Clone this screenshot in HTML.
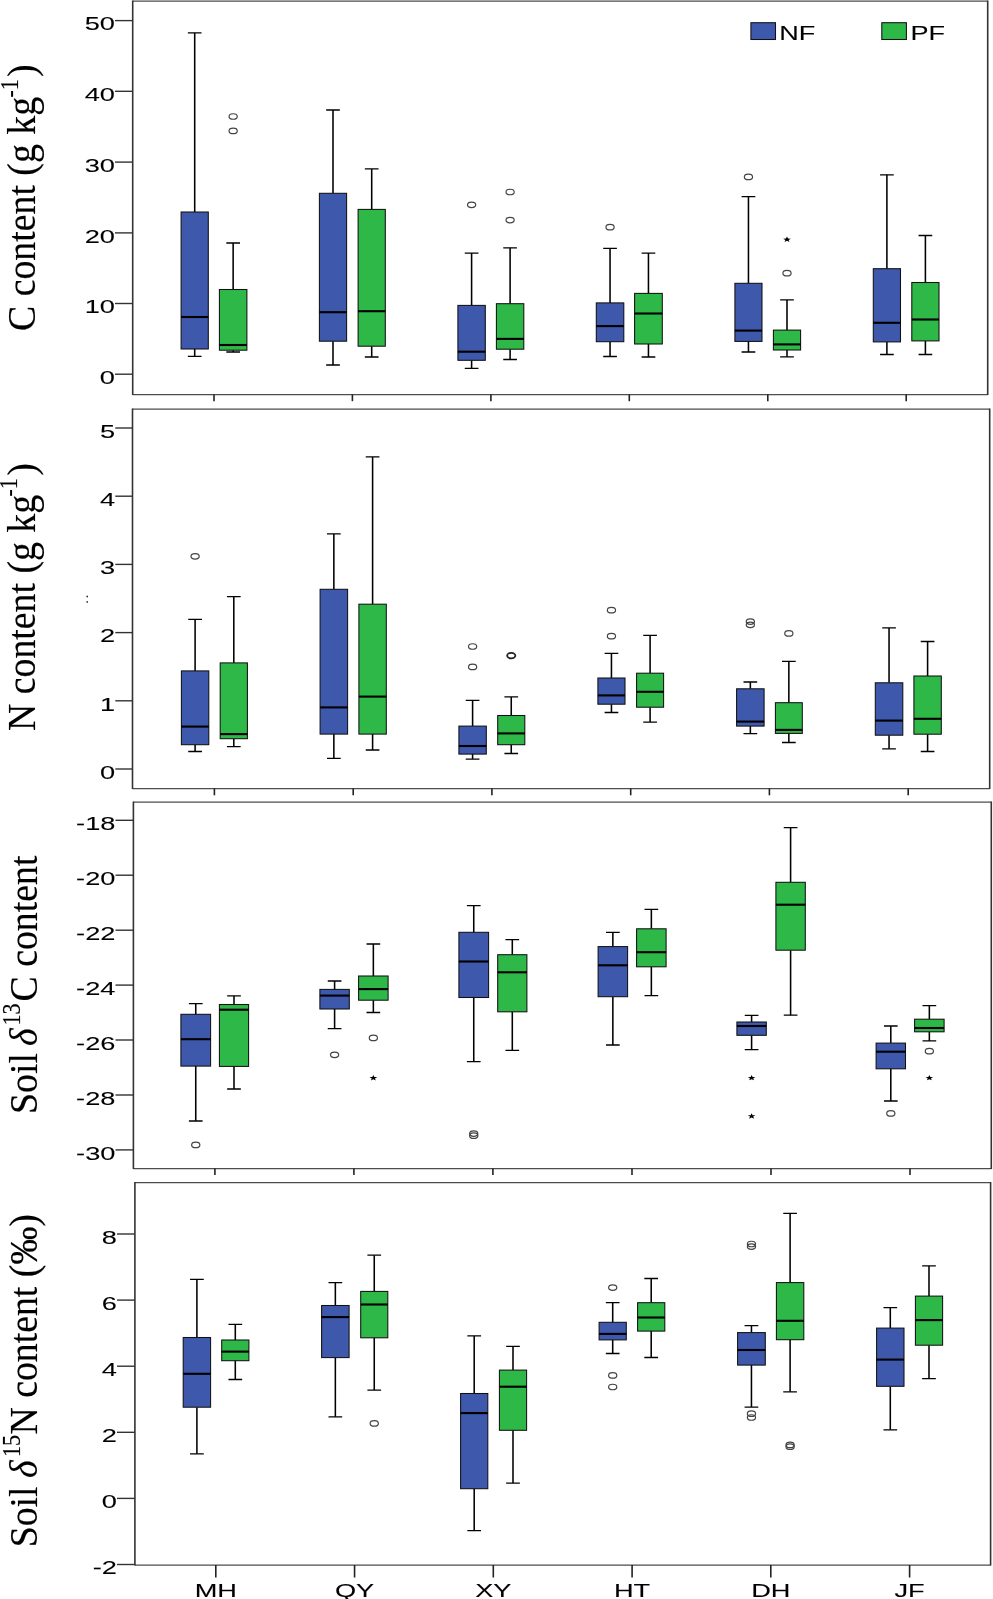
<!DOCTYPE html>
<html><head><meta charset="utf-8"><title>Box plots</title>
<style>
html,body{margin:0;padding:0;background:#fff;}
body{width:993px;height:1599px;overflow:hidden;}
svg{display:block;will-change:transform;}
.t{font-family:"Liberation Sans",sans-serif;font-size:18.9px;fill:#000;stroke:#000;stroke-width:0.08px;}
.lg{font-family:"Liberation Sans",sans-serif;font-size:19.6px;fill:#000;stroke:#000;stroke-width:0.08px;}
.st{font-family:"Liberation Sans",sans-serif;font-size:13px;fill:#000;}
.yt{font-family:"Liberation Serif",serif;stroke-width:0.15px;}
.sup{font-size:21.5px;}
</style></head>
<body>
<svg width="993" height="1599" viewBox="0 0 993 1599">
<rect width="993" height="1599" fill="#fff"/>
<path d="M132.7 1.2H987.7M132.7 394.5H987.7" stroke="#4d4d4d" stroke-width="1.25" fill="none"/>
<path d="M132.7 0.6V395.1M987.7 0.6V395.1" stroke="#333" stroke-width="1.6" fill="none"/>
<line x1="115" y1="20.6" x2="132.7" y2="20.6" stroke="#333" stroke-width="1.4"/>
<text class="t" transform="translate(114.9 30.3) scale(1.44 1)" text-anchor="end">50</text>
<line x1="115" y1="91.3" x2="132.7" y2="91.3" stroke="#333" stroke-width="1.4"/>
<text class="t" transform="translate(114.9 101) scale(1.44 1)" text-anchor="end">40</text>
<line x1="115" y1="162.1" x2="132.7" y2="162.1" stroke="#333" stroke-width="1.4"/>
<text class="t" transform="translate(114.9 171.8) scale(1.44 1)" text-anchor="end">30</text>
<line x1="115" y1="232.9" x2="132.7" y2="232.9" stroke="#333" stroke-width="1.4"/>
<text class="t" transform="translate(114.9 242.6) scale(1.44 1)" text-anchor="end">20</text>
<line x1="115" y1="303.5" x2="132.7" y2="303.5" stroke="#333" stroke-width="1.4"/>
<text class="t" transform="translate(114.9 313.2) scale(1.44 1)" text-anchor="end">10</text>
<line x1="115" y1="374.2" x2="132.7" y2="374.2" stroke="#333" stroke-width="1.4"/>
<text class="t" transform="translate(114.9 383.9) scale(1.44 1)" text-anchor="end">0</text>
<line x1="214" y1="394.5" x2="214" y2="401.2" stroke="#222" stroke-width="1.6"/>
<line x1="352.4" y1="394.5" x2="352.4" y2="401.2" stroke="#222" stroke-width="1.6"/>
<line x1="490.9" y1="394.5" x2="490.9" y2="401.2" stroke="#222" stroke-width="1.6"/>
<line x1="629.3" y1="394.5" x2="629.3" y2="401.2" stroke="#222" stroke-width="1.6"/>
<line x1="767.8" y1="394.5" x2="767.8" y2="401.2" stroke="#222" stroke-width="1.6"/>
<line x1="906.2" y1="394.5" x2="906.2" y2="401.2" stroke="#222" stroke-width="1.6"/>
<path d="M194.7 32.9V212M194.7 349V356.3" stroke="#000" stroke-width="1.55" fill="none"/>
<path d="M187.85 32.9H201.55M187.85 356.3H201.55" stroke="#000" stroke-width="1.3" fill="none"/>
<rect x="181.1" y="212" width="27.2" height="137" fill="#3e58ac" stroke="#111" stroke-width="1.05"/>
<line x1="181.1" y1="317" x2="208.3" y2="317" stroke="#000" stroke-width="2.1"/>
<path d="M233.15 243V289.5M233.15 350.2V352" stroke="#000" stroke-width="1.55" fill="none"/>
<path d="M226.3 243H240M226.3 352H240" stroke="#000" stroke-width="1.3" fill="none"/>
<rect x="219.4" y="289.5" width="27.5" height="60.7" fill="#2eb848" stroke="#111" stroke-width="1.05"/>
<line x1="219.4" y1="345" x2="246.9" y2="345" stroke="#000" stroke-width="2.1"/>
<ellipse cx="233.15" cy="116.5" rx="4.1" ry="2.75" fill="none" stroke="#444" stroke-width="1.2"/>
<ellipse cx="233.15" cy="130.9" rx="4.1" ry="2.75" fill="none" stroke="#444" stroke-width="1.2"/>
<path d="M333 110V193.3M333 341.2V365" stroke="#000" stroke-width="1.55" fill="none"/>
<path d="M326.15 110H339.85M326.15 365H339.85" stroke="#000" stroke-width="1.3" fill="none"/>
<rect x="319.4" y="193.3" width="27.2" height="147.9" fill="#3e58ac" stroke="#111" stroke-width="1.05"/>
<line x1="319.4" y1="312.2" x2="346.6" y2="312.2" stroke="#000" stroke-width="2.1"/>
<path d="M371.7 168.9V209.4M371.7 346.2V357" stroke="#000" stroke-width="1.55" fill="none"/>
<path d="M364.85 168.9H378.55M364.85 357H378.55" stroke="#000" stroke-width="1.3" fill="none"/>
<rect x="358.1" y="209.4" width="27.2" height="136.8" fill="#2eb848" stroke="#111" stroke-width="1.05"/>
<line x1="358.1" y1="311.2" x2="385.3" y2="311.2" stroke="#000" stroke-width="2.1"/>
<path d="M471.6 253.1V305.4M471.6 360.3V368.4" stroke="#000" stroke-width="1.55" fill="none"/>
<path d="M464.75 253.1H478.45M464.75 368.4H478.45" stroke="#000" stroke-width="1.3" fill="none"/>
<rect x="457.9" y="305.4" width="27.4" height="54.9" fill="#3e58ac" stroke="#111" stroke-width="1.05"/>
<line x1="457.9" y1="351.7" x2="485.3" y2="351.7" stroke="#000" stroke-width="2.1"/>
<ellipse cx="471.6" cy="204.8" rx="4.1" ry="2.75" fill="none" stroke="#444" stroke-width="1.2"/>
<path d="M510.1 247.8V303.7M510.1 349.2V359.5" stroke="#000" stroke-width="1.55" fill="none"/>
<path d="M503.25 247.8H516.95M503.25 359.5H516.95" stroke="#000" stroke-width="1.3" fill="none"/>
<rect x="496.4" y="303.7" width="27.4" height="45.5" fill="#2eb848" stroke="#111" stroke-width="1.05"/>
<line x1="496.4" y1="338.9" x2="523.8" y2="338.9" stroke="#000" stroke-width="2.1"/>
<ellipse cx="510.1" cy="192" rx="4.1" ry="2.75" fill="none" stroke="#444" stroke-width="1.2"/>
<ellipse cx="510.1" cy="220.1" rx="4.1" ry="2.75" fill="none" stroke="#444" stroke-width="1.2"/>
<path d="M610.05 248.3V302.9M610.05 341.7V356.5" stroke="#000" stroke-width="1.55" fill="none"/>
<path d="M603.2 248.3H616.9M603.2 356.5H616.9" stroke="#000" stroke-width="1.3" fill="none"/>
<rect x="596.3" y="302.9" width="27.5" height="38.8" fill="#3e58ac" stroke="#111" stroke-width="1.05"/>
<line x1="596.3" y1="326.1" x2="623.8" y2="326.1" stroke="#000" stroke-width="2.1"/>
<ellipse cx="610.05" cy="227.2" rx="4.1" ry="2.75" fill="none" stroke="#444" stroke-width="1.2"/>
<path d="M648.45 253.1V293.4M648.45 344V357" stroke="#000" stroke-width="1.55" fill="none"/>
<path d="M641.6 253.1H655.3M641.6 357H655.3" stroke="#000" stroke-width="1.3" fill="none"/>
<rect x="634.6" y="293.4" width="27.7" height="50.6" fill="#2eb848" stroke="#111" stroke-width="1.05"/>
<line x1="634.6" y1="313.5" x2="662.3" y2="313.5" stroke="#000" stroke-width="2.1"/>
<path d="M748.45 196.7V283.3M748.45 341.4V352" stroke="#000" stroke-width="1.55" fill="none"/>
<path d="M741.6 196.7H755.3M741.6 352H755.3" stroke="#000" stroke-width="1.3" fill="none"/>
<rect x="734.9" y="283.3" width="27.1" height="58.1" fill="#3e58ac" stroke="#111" stroke-width="1.05"/>
<line x1="734.9" y1="330.6" x2="762" y2="330.6" stroke="#000" stroke-width="2.1"/>
<ellipse cx="748.45" cy="176.9" rx="4.1" ry="2.75" fill="none" stroke="#444" stroke-width="1.2"/>
<path d="M787 299.9V330.1M787 350V356.8" stroke="#000" stroke-width="1.55" fill="none"/>
<path d="M780.15 299.9H793.85M780.15 356.8H793.85" stroke="#000" stroke-width="1.3" fill="none"/>
<rect x="773.4" y="330.1" width="27.2" height="19.9" fill="#2eb848" stroke="#111" stroke-width="1.05"/>
<line x1="773.4" y1="344.4" x2="800.6" y2="344.4" stroke="#000" stroke-width="2.1"/>
<ellipse cx="787" cy="273.2" rx="4.1" ry="2.75" fill="none" stroke="#444" stroke-width="1.2"/>
<path transform="translate(787 239.3) scale(4.1 3.0)" d="M0.000 -0.900L0.247 -0.240L0.951 -0.209L0.399 0.230L0.588 0.909L0.000 0.520L-0.588 0.909L-0.399 0.230L-0.951 -0.209L-0.247 -0.240Z" fill="#000"/>
<path d="M886.9 174.8V268.7M886.9 341.9V354.5" stroke="#000" stroke-width="1.55" fill="none"/>
<path d="M880.05 174.8H893.75M880.05 354.5H893.75" stroke="#000" stroke-width="1.3" fill="none"/>
<rect x="873.3" y="268.7" width="27.2" height="73.2" fill="#3e58ac" stroke="#111" stroke-width="1.05"/>
<line x1="873.3" y1="322.8" x2="900.5" y2="322.8" stroke="#000" stroke-width="2.1"/>
<path d="M925.4 235.5V282.5M925.4 340.9V354.5" stroke="#000" stroke-width="1.55" fill="none"/>
<path d="M918.55 235.5H932.25M918.55 354.5H932.25" stroke="#000" stroke-width="1.3" fill="none"/>
<rect x="911.8" y="282.5" width="27.2" height="58.4" fill="#2eb848" stroke="#111" stroke-width="1.05"/>
<line x1="911.8" y1="319.5" x2="939" y2="319.5" stroke="#000" stroke-width="2.1"/>
<path d="M132.5 409.2H989.7M132.5 788.5H989.7" stroke="#4d4d4d" stroke-width="1.25" fill="none"/>
<path d="M132.5 408.6V789.1M989.7 408.6V789.1" stroke="#333" stroke-width="1.6" fill="none"/>
<line x1="115.3" y1="428" x2="132.5" y2="428" stroke="#333" stroke-width="1.4"/>
<text class="t" transform="translate(115.2 437.7) scale(1.44 1)" text-anchor="end">5</text>
<line x1="115.3" y1="496.2" x2="132.5" y2="496.2" stroke="#333" stroke-width="1.4"/>
<text class="t" transform="translate(115.2 505.9) scale(1.44 1)" text-anchor="end">4</text>
<line x1="115.3" y1="564.4" x2="132.5" y2="564.4" stroke="#333" stroke-width="1.4"/>
<text class="t" transform="translate(115.2 574.1) scale(1.44 1)" text-anchor="end">3</text>
<line x1="115.3" y1="632.6" x2="132.5" y2="632.6" stroke="#333" stroke-width="1.4"/>
<text class="t" transform="translate(115.2 642.3) scale(1.44 1)" text-anchor="end">2</text>
<line x1="115.3" y1="700.8" x2="132.5" y2="700.8" stroke="#333" stroke-width="1.4"/>
<text class="t" transform="translate(115.2 710.5) scale(1.44 1)" text-anchor="end">1</text>
<line x1="115.3" y1="769" x2="132.5" y2="769" stroke="#333" stroke-width="1.4"/>
<text class="t" transform="translate(115.2 778.7) scale(1.44 1)" text-anchor="end">0</text>
<line x1="214.4" y1="788.5" x2="214.4" y2="795.3" stroke="#222" stroke-width="1.6"/>
<line x1="353.2" y1="788.5" x2="353.2" y2="795.3" stroke="#222" stroke-width="1.6"/>
<line x1="491.9" y1="788.5" x2="491.9" y2="795.3" stroke="#222" stroke-width="1.6"/>
<line x1="630.7" y1="788.5" x2="630.7" y2="795.3" stroke="#222" stroke-width="1.6"/>
<line x1="769.4" y1="788.5" x2="769.4" y2="795.3" stroke="#222" stroke-width="1.6"/>
<line x1="908.2" y1="788.5" x2="908.2" y2="795.3" stroke="#222" stroke-width="1.6"/>
<path d="M195.1 619.3V670.9M195.1 744.7V751.5" stroke="#000" stroke-width="1.55" fill="none"/>
<path d="M188.25 619.3H201.95M188.25 751.5H201.95" stroke="#000" stroke-width="1.3" fill="none"/>
<rect x="181.4" y="670.9" width="27.4" height="73.8" fill="#3e58ac" stroke="#111" stroke-width="1.05"/>
<line x1="181.4" y1="726.6" x2="208.8" y2="726.6" stroke="#000" stroke-width="2.1"/>
<ellipse cx="195.1" cy="556.3" rx="4.1" ry="2.75" fill="none" stroke="#444" stroke-width="1.2"/>
<path d="M233.8 596.6V662.9M233.8 738.7V746.7" stroke="#000" stroke-width="1.55" fill="none"/>
<path d="M226.95 596.6H240.65M226.95 746.7H240.65" stroke="#000" stroke-width="1.3" fill="none"/>
<rect x="220.2" y="662.9" width="27.2" height="75.8" fill="#2eb848" stroke="#111" stroke-width="1.05"/>
<line x1="220.2" y1="734.1" x2="247.4" y2="734.1" stroke="#000" stroke-width="2.1"/>
<path d="M333.85 533.9V589.3M333.85 734.1V758.3" stroke="#000" stroke-width="1.55" fill="none"/>
<path d="M327 533.9H340.7M327 758.3H340.7" stroke="#000" stroke-width="1.3" fill="none"/>
<rect x="320.1" y="589.3" width="27.5" height="144.8" fill="#3e58ac" stroke="#111" stroke-width="1.05"/>
<line x1="320.1" y1="707.4" x2="347.6" y2="707.4" stroke="#000" stroke-width="2.1"/>
<path d="M372.6 456.9V604.2M372.6 734.1V750" stroke="#000" stroke-width="1.55" fill="none"/>
<path d="M365.75 456.9H379.45M365.75 750H379.45" stroke="#000" stroke-width="1.3" fill="none"/>
<rect x="358.9" y="604.2" width="27.4" height="129.9" fill="#2eb848" stroke="#111" stroke-width="1.05"/>
<line x1="358.9" y1="696.6" x2="386.3" y2="696.6" stroke="#000" stroke-width="2.1"/>
<path d="M472.6 700.4V726.1M472.6 754.1V759.1" stroke="#000" stroke-width="1.55" fill="none"/>
<path d="M465.75 700.4H479.45M465.75 759.1H479.45" stroke="#000" stroke-width="1.3" fill="none"/>
<rect x="458.9" y="726.1" width="27.4" height="28" fill="#3e58ac" stroke="#111" stroke-width="1.05"/>
<line x1="458.9" y1="746" x2="486.3" y2="746" stroke="#000" stroke-width="2.1"/>
<ellipse cx="472.6" cy="646.5" rx="4.1" ry="2.75" fill="none" stroke="#444" stroke-width="1.2"/>
<ellipse cx="472.6" cy="666.9" rx="4.1" ry="2.75" fill="none" stroke="#444" stroke-width="1.2"/>
<path d="M511.25 696.9V715.5M511.25 744.7V753.5" stroke="#000" stroke-width="1.55" fill="none"/>
<path d="M504.4 696.9H518.1M504.4 753.5H518.1" stroke="#000" stroke-width="1.3" fill="none"/>
<rect x="497.7" y="715.5" width="27.1" height="29.2" fill="#2eb848" stroke="#111" stroke-width="1.05"/>
<line x1="497.7" y1="733.4" x2="524.8" y2="733.4" stroke="#000" stroke-width="2.1"/>
<ellipse cx="511.25" cy="655.6" rx="4.1" ry="2.75" fill="none" stroke="#222" stroke-width="1.8"/>
<path d="M611.45 653.3V678M611.45 704.2V712.5" stroke="#000" stroke-width="1.55" fill="none"/>
<path d="M604.6 653.3H618.3M604.6 712.5H618.3" stroke="#000" stroke-width="1.3" fill="none"/>
<rect x="597.9" y="678" width="27.1" height="26.2" fill="#3e58ac" stroke="#111" stroke-width="1.05"/>
<line x1="597.9" y1="695.4" x2="625" y2="695.4" stroke="#000" stroke-width="2.1"/>
<ellipse cx="611.45" cy="610.2" rx="4.1" ry="2.75" fill="none" stroke="#444" stroke-width="1.2"/>
<ellipse cx="611.45" cy="636.2" rx="4.1" ry="2.75" fill="none" stroke="#444" stroke-width="1.2"/>
<path d="M650.1 635.4V673.2M650.1 707.2V722.1" stroke="#000" stroke-width="1.55" fill="none"/>
<path d="M643.25 635.4H656.95M643.25 722.1H656.95" stroke="#000" stroke-width="1.3" fill="none"/>
<rect x="636.6" y="673.2" width="27" height="34" fill="#2eb848" stroke="#111" stroke-width="1.05"/>
<line x1="636.6" y1="691.8" x2="663.6" y2="691.8" stroke="#000" stroke-width="2.1"/>
<path d="M750.35 682V688.8M750.35 726.1V733.7" stroke="#000" stroke-width="1.55" fill="none"/>
<path d="M743.5 682H757.2M743.5 733.7H757.2" stroke="#000" stroke-width="1.3" fill="none"/>
<rect x="736.6" y="688.8" width="27.5" height="37.3" fill="#3e58ac" stroke="#111" stroke-width="1.05"/>
<line x1="736.6" y1="721.6" x2="764.1" y2="721.6" stroke="#000" stroke-width="2.1"/>
<ellipse cx="750.35" cy="621.6" rx="4.1" ry="2.75" fill="none" stroke="#444" stroke-width="1.2"/>
<ellipse cx="750.35" cy="624.8" rx="4.1" ry="2.75" fill="none" stroke="#444" stroke-width="1.2"/>
<path d="M788.85 661.4V702.7M788.85 733.4V742.5" stroke="#000" stroke-width="1.55" fill="none"/>
<path d="M782 661.4H795.7M782 742.5H795.7" stroke="#000" stroke-width="1.3" fill="none"/>
<rect x="775.4" y="702.7" width="26.9" height="30.7" fill="#2eb848" stroke="#111" stroke-width="1.05"/>
<line x1="775.4" y1="729.9" x2="802.3" y2="729.9" stroke="#000" stroke-width="2.1"/>
<ellipse cx="788.85" cy="633.4" rx="4.1" ry="2.75" fill="none" stroke="#444" stroke-width="1.2"/>
<path d="M889.05 627.9V682.8M889.05 735.2V748.8" stroke="#000" stroke-width="1.55" fill="none"/>
<path d="M882.2 627.9H895.9M882.2 748.8H895.9" stroke="#000" stroke-width="1.3" fill="none"/>
<rect x="875.3" y="682.8" width="27.5" height="52.4" fill="#3e58ac" stroke="#111" stroke-width="1.05"/>
<line x1="875.3" y1="720.6" x2="902.8" y2="720.6" stroke="#000" stroke-width="2.1"/>
<path d="M927.6 641.5V676M927.6 734.2V751.5" stroke="#000" stroke-width="1.55" fill="none"/>
<path d="M920.75 641.5H934.45M920.75 751.5H934.45" stroke="#000" stroke-width="1.3" fill="none"/>
<rect x="913.9" y="676" width="27.4" height="58.2" fill="#2eb848" stroke="#111" stroke-width="1.05"/>
<line x1="913.9" y1="718.8" x2="941.3" y2="718.8" stroke="#000" stroke-width="2.1"/>
<path d="M133.4 802H991.3M133.4 1168.5H991.3" stroke="#4d4d4d" stroke-width="1.25" fill="none"/>
<path d="M133.4 801.4V1169.1M991.3 801.4V1169.1" stroke="#333" stroke-width="1.6" fill="none"/>
<line x1="115.5" y1="820.3" x2="133.4" y2="820.3" stroke="#333" stroke-width="1.4"/>
<text class="t" transform="translate(115.4 830) scale(1.44 1)" text-anchor="end">-18</text>
<line x1="115.5" y1="875.2" x2="133.4" y2="875.2" stroke="#333" stroke-width="1.4"/>
<text class="t" transform="translate(115.4 884.9) scale(1.44 1)" text-anchor="end">-20</text>
<line x1="115.5" y1="930.2" x2="133.4" y2="930.2" stroke="#333" stroke-width="1.4"/>
<text class="t" transform="translate(115.4 939.9) scale(1.44 1)" text-anchor="end">-22</text>
<line x1="115.5" y1="985.1" x2="133.4" y2="985.1" stroke="#333" stroke-width="1.4"/>
<text class="t" transform="translate(115.4 994.8) scale(1.44 1)" text-anchor="end">-24</text>
<line x1="115.5" y1="1040" x2="133.4" y2="1040" stroke="#333" stroke-width="1.4"/>
<text class="t" transform="translate(115.4 1049.7) scale(1.44 1)" text-anchor="end">-26</text>
<line x1="115.5" y1="1095" x2="133.4" y2="1095" stroke="#333" stroke-width="1.4"/>
<text class="t" transform="translate(115.4 1104.7) scale(1.44 1)" text-anchor="end">-28</text>
<line x1="115.5" y1="1149.9" x2="133.4" y2="1149.9" stroke="#333" stroke-width="1.4"/>
<text class="t" transform="translate(115.4 1159.6) scale(1.44 1)" text-anchor="end">-30</text>
<line x1="214.9" y1="1168.5" x2="214.9" y2="1175" stroke="#222" stroke-width="1.6"/>
<line x1="353.9" y1="1168.5" x2="353.9" y2="1175" stroke="#222" stroke-width="1.6"/>
<line x1="492.9" y1="1168.5" x2="492.9" y2="1175" stroke="#222" stroke-width="1.6"/>
<line x1="632" y1="1168.5" x2="632" y2="1175" stroke="#222" stroke-width="1.6"/>
<line x1="771" y1="1168.5" x2="771" y2="1175" stroke="#222" stroke-width="1.6"/>
<line x1="910" y1="1168.5" x2="910" y2="1175" stroke="#222" stroke-width="1.6"/>
<path d="M195.75 1003.7V1014.3M195.75 1066.1V1121" stroke="#000" stroke-width="1.55" fill="none"/>
<path d="M188.9 1003.7H202.6M188.9 1121H202.6" stroke="#000" stroke-width="1.3" fill="none"/>
<rect x="180.9" y="1014.3" width="29.7" height="51.8" fill="#3e58ac" stroke="#111" stroke-width="1.05"/>
<line x1="180.9" y1="1039.2" x2="210.6" y2="1039.2" stroke="#000" stroke-width="2.1"/>
<ellipse cx="195.75" cy="1144.9" rx="4.1" ry="2.75" fill="none" stroke="#444" stroke-width="1.2"/>
<path d="M234 995.9V1004.5M234 1066.4V1089" stroke="#000" stroke-width="1.55" fill="none"/>
<path d="M227.15 995.9H240.85M227.15 1089H240.85" stroke="#000" stroke-width="1.3" fill="none"/>
<rect x="219.4" y="1004.5" width="29.2" height="61.9" fill="#2eb848" stroke="#111" stroke-width="1.05"/>
<line x1="219.4" y1="1009.7" x2="248.6" y2="1009.7" stroke="#000" stroke-width="2.1"/>
<path d="M334.6 981V989.4M334.6 1009V1028.6" stroke="#000" stroke-width="1.55" fill="none"/>
<path d="M327.75 981H341.45M327.75 1028.6H341.45" stroke="#000" stroke-width="1.3" fill="none"/>
<rect x="319.9" y="989.4" width="29.4" height="19.6" fill="#3e58ac" stroke="#111" stroke-width="1.05"/>
<line x1="319.9" y1="995.6" x2="349.3" y2="995.6" stroke="#000" stroke-width="2.1"/>
<ellipse cx="334.6" cy="1054.8" rx="4.1" ry="2.75" fill="none" stroke="#444" stroke-width="1.2"/>
<path d="M373.35 944V976M373.35 1000.2V1012.5" stroke="#000" stroke-width="1.55" fill="none"/>
<path d="M366.5 944H380.2M366.5 1012.5H380.2" stroke="#000" stroke-width="1.3" fill="none"/>
<rect x="358.6" y="976" width="29.5" height="24.2" fill="#2eb848" stroke="#111" stroke-width="1.05"/>
<line x1="358.6" y1="989.1" x2="388.1" y2="989.1" stroke="#000" stroke-width="2.1"/>
<ellipse cx="373.35" cy="1037.9" rx="4.1" ry="2.75" fill="none" stroke="#444" stroke-width="1.2"/>
<path transform="translate(373.35 1077.7) scale(4.1 3.0)" d="M0.000 -0.900L0.247 -0.240L0.951 -0.209L0.399 0.230L0.588 0.909L0.000 0.520L-0.588 0.909L-0.399 0.230L-0.951 -0.209L-0.247 -0.240Z" fill="#000"/>
<path d="M473.75 905.6V932.3M473.75 997.5V1061.7" stroke="#000" stroke-width="1.55" fill="none"/>
<path d="M466.9 905.6H480.6M466.9 1061.7H480.6" stroke="#000" stroke-width="1.3" fill="none"/>
<rect x="458.9" y="932.3" width="29.7" height="65.2" fill="#3e58ac" stroke="#111" stroke-width="1.05"/>
<line x1="458.9" y1="961.5" x2="488.6" y2="961.5" stroke="#000" stroke-width="2.1"/>
<ellipse cx="473.75" cy="1133.6" rx="4.1" ry="2.75" fill="none" stroke="#444" stroke-width="1.2"/>
<ellipse cx="473.75" cy="1135.7" rx="4.1" ry="2.75" fill="none" stroke="#444" stroke-width="1.2"/>
<path d="M512.3 939.6V954.7M512.3 1011.8V1050.3" stroke="#000" stroke-width="1.55" fill="none"/>
<path d="M505.45 939.6H519.15M505.45 1050.3H519.15" stroke="#000" stroke-width="1.3" fill="none"/>
<rect x="497.7" y="954.7" width="29.2" height="57.1" fill="#2eb848" stroke="#111" stroke-width="1.05"/>
<line x1="497.7" y1="972.3" x2="526.9" y2="972.3" stroke="#000" stroke-width="2.1"/>
<path d="M612.85 932.3V946.6M612.85 996.7V1045" stroke="#000" stroke-width="1.55" fill="none"/>
<path d="M606 932.3H619.7M606 1045H619.7" stroke="#000" stroke-width="1.3" fill="none"/>
<rect x="598.1" y="946.6" width="29.5" height="50.1" fill="#3e58ac" stroke="#111" stroke-width="1.05"/>
<line x1="598.1" y1="965.3" x2="627.6" y2="965.3" stroke="#000" stroke-width="2.1"/>
<path d="M651.35 909.4V928.8M651.35 966.8V995.7" stroke="#000" stroke-width="1.55" fill="none"/>
<path d="M644.5 909.4H658.2M644.5 995.7H658.2" stroke="#000" stroke-width="1.3" fill="none"/>
<rect x="636.6" y="928.8" width="29.5" height="38" fill="#2eb848" stroke="#111" stroke-width="1.05"/>
<line x1="636.6" y1="952.2" x2="666.1" y2="952.2" stroke="#000" stroke-width="2.1"/>
<path d="M751.6 1015.4V1022M751.6 1035.3V1049.7" stroke="#000" stroke-width="1.55" fill="none"/>
<path d="M744.75 1015.4H758.45M744.75 1049.7H758.45" stroke="#000" stroke-width="1.3" fill="none"/>
<rect x="736.9" y="1022" width="29.4" height="13.3" fill="#3e58ac" stroke="#111" stroke-width="1.05"/>
<line x1="736.9" y1="1026" x2="766.3" y2="1026" stroke="#000" stroke-width="2.1"/>
<path transform="translate(751.6 1077.6) scale(4.1 3.0)" d="M0.000 -0.900L0.247 -0.240L0.951 -0.209L0.399 0.230L0.588 0.909L0.000 0.520L-0.588 0.909L-0.399 0.230L-0.951 -0.209L-0.247 -0.240Z" fill="#000"/>
<path transform="translate(751.6 1115.9) scale(4.1 3.0)" d="M0.000 -0.900L0.247 -0.240L0.951 -0.209L0.399 0.230L0.588 0.909L0.000 0.520L-0.588 0.909L-0.399 0.230L-0.951 -0.209L-0.247 -0.240Z" fill="#000"/>
<path d="M790.6 827.6V882.3M790.6 950.2V1015.2" stroke="#000" stroke-width="1.55" fill="none"/>
<path d="M783.75 827.6H797.45M783.75 1015.2H797.45" stroke="#000" stroke-width="1.3" fill="none"/>
<rect x="775.9" y="882.3" width="29.4" height="67.9" fill="#2eb848" stroke="#111" stroke-width="1.05"/>
<line x1="775.9" y1="904.7" x2="805.3" y2="904.7" stroke="#000" stroke-width="2.1"/>
<path d="M890.8 1026V1043.1M890.8 1068.8V1101" stroke="#000" stroke-width="1.55" fill="none"/>
<path d="M883.95 1026H897.65M883.95 1101H897.65" stroke="#000" stroke-width="1.3" fill="none"/>
<rect x="876.1" y="1043.1" width="29.4" height="25.7" fill="#3e58ac" stroke="#111" stroke-width="1.05"/>
<line x1="876.1" y1="1051.7" x2="905.5" y2="1051.7" stroke="#000" stroke-width="2.1"/>
<ellipse cx="890.8" cy="1113.4" rx="4.1" ry="2.75" fill="none" stroke="#444" stroke-width="1.2"/>
<path d="M929.35 1005.6V1019.2M929.35 1031.8V1040.9" stroke="#000" stroke-width="1.55" fill="none"/>
<path d="M922.5 1005.6H936.2M922.5 1040.9H936.2" stroke="#000" stroke-width="1.3" fill="none"/>
<rect x="914.6" y="1019.2" width="29.5" height="12.6" fill="#2eb848" stroke="#111" stroke-width="1.05"/>
<line x1="914.6" y1="1028" x2="944.1" y2="1028" stroke="#000" stroke-width="2.1"/>
<ellipse cx="929.35" cy="1051.2" rx="4.1" ry="2.75" fill="none" stroke="#444" stroke-width="1.2"/>
<path transform="translate(929.35 1077.6) scale(4.1 3.0)" d="M0.000 -0.900L0.247 -0.240L0.951 -0.209L0.399 0.230L0.588 0.909L0.000 0.520L-0.588 0.909L-0.399 0.230L-0.951 -0.209L-0.247 -0.240Z" fill="#000"/>
<path d="M134.9 1182.5H990.6M134.9 1565H990.6" stroke="#4d4d4d" stroke-width="1.25" fill="none"/>
<path d="M134.9 1181.9V1565.6M990.6 1181.9V1565.6" stroke="#333" stroke-width="1.6" fill="none"/>
<line x1="117" y1="1234" x2="134.9" y2="1234" stroke="#333" stroke-width="1.4"/>
<text class="t" transform="translate(116.9 1243.7) scale(1.44 1)" text-anchor="end">8</text>
<line x1="117" y1="1300.1" x2="134.9" y2="1300.1" stroke="#333" stroke-width="1.4"/>
<text class="t" transform="translate(116.9 1309.8) scale(1.44 1)" text-anchor="end">6</text>
<line x1="117" y1="1366.2" x2="134.9" y2="1366.2" stroke="#333" stroke-width="1.4"/>
<text class="t" transform="translate(116.9 1375.9) scale(1.44 1)" text-anchor="end">4</text>
<line x1="117" y1="1432.3" x2="134.9" y2="1432.3" stroke="#333" stroke-width="1.4"/>
<text class="t" transform="translate(116.9 1442) scale(1.44 1)" text-anchor="end">2</text>
<line x1="117" y1="1498.4" x2="134.9" y2="1498.4" stroke="#333" stroke-width="1.4"/>
<text class="t" transform="translate(116.9 1508.1) scale(1.44 1)" text-anchor="end">0</text>
<line x1="117" y1="1564.5" x2="134.9" y2="1564.5" stroke="#333" stroke-width="1.4"/>
<text class="t" transform="translate(116.9 1574.2) scale(1.44 1)" text-anchor="end">-2</text>
<line x1="215.8" y1="1565" x2="215.8" y2="1577.5" stroke="#222" stroke-width="1.6"/>
<line x1="354.56" y1="1565" x2="354.56" y2="1577.5" stroke="#222" stroke-width="1.6"/>
<line x1="493.3" y1="1565" x2="493.3" y2="1577.5" stroke="#222" stroke-width="1.6"/>
<line x1="632.1" y1="1565" x2="632.1" y2="1577.5" stroke="#222" stroke-width="1.6"/>
<line x1="770.8" y1="1565" x2="770.8" y2="1577.5" stroke="#222" stroke-width="1.6"/>
<line x1="909.6" y1="1565" x2="909.6" y2="1577.5" stroke="#222" stroke-width="1.6"/>
<path d="M196.9 1279.3V1337.5M196.9 1407.2V1453.8" stroke="#000" stroke-width="1.55" fill="none"/>
<path d="M190.05 1279.3H203.75M190.05 1453.8H203.75" stroke="#000" stroke-width="1.3" fill="none"/>
<rect x="183.2" y="1337.5" width="27.4" height="69.7" fill="#3e58ac" stroke="#111" stroke-width="1.05"/>
<line x1="183.2" y1="1373.8" x2="210.6" y2="1373.8" stroke="#000" stroke-width="2.1"/>
<path d="M235.3 1324.4V1340M235.3 1360.7V1379.5" stroke="#000" stroke-width="1.55" fill="none"/>
<path d="M228.45 1324.4H242.15M228.45 1379.5H242.15" stroke="#000" stroke-width="1.3" fill="none"/>
<rect x="221.7" y="1340" width="27.2" height="20.7" fill="#2eb848" stroke="#111" stroke-width="1.05"/>
<line x1="221.7" y1="1351.6" x2="248.9" y2="1351.6" stroke="#000" stroke-width="2.1"/>
<path d="M335.35 1282.6V1305.5M335.35 1357.6V1416.8" stroke="#000" stroke-width="1.55" fill="none"/>
<path d="M328.5 1282.6H342.2M328.5 1416.8H342.2" stroke="#000" stroke-width="1.3" fill="none"/>
<rect x="321.6" y="1305.5" width="27.5" height="52.1" fill="#3e58ac" stroke="#111" stroke-width="1.05"/>
<line x1="321.6" y1="1317.1" x2="349.1" y2="1317.1" stroke="#000" stroke-width="2.1"/>
<path d="M374.25 1255.2V1291.4M374.25 1337.8V1390.1" stroke="#000" stroke-width="1.55" fill="none"/>
<path d="M367.4 1255.2H381.1M367.4 1390.1H381.1" stroke="#000" stroke-width="1.3" fill="none"/>
<rect x="360.7" y="1291.4" width="27.1" height="46.4" fill="#2eb848" stroke="#111" stroke-width="1.05"/>
<line x1="360.7" y1="1304.5" x2="387.8" y2="1304.5" stroke="#000" stroke-width="2.1"/>
<ellipse cx="374.25" cy="1423.4" rx="4.1" ry="2.75" fill="none" stroke="#444" stroke-width="1.2"/>
<path d="M474.2 1335.9V1393.5M474.2 1488.7V1530.7" stroke="#000" stroke-width="1.55" fill="none"/>
<path d="M467.35 1335.9H481.05M467.35 1530.7H481.05" stroke="#000" stroke-width="1.3" fill="none"/>
<rect x="460.6" y="1393.5" width="27.2" height="95.2" fill="#3e58ac" stroke="#111" stroke-width="1.05"/>
<line x1="460.6" y1="1413.1" x2="487.8" y2="1413.1" stroke="#000" stroke-width="2.1"/>
<path d="M513 1346.4V1370.1M513 1430.3V1483.1" stroke="#000" stroke-width="1.55" fill="none"/>
<path d="M506.15 1346.4H519.85M506.15 1483.1H519.85" stroke="#000" stroke-width="1.3" fill="none"/>
<rect x="499.4" y="1370.1" width="27.2" height="60.2" fill="#2eb848" stroke="#111" stroke-width="1.05"/>
<line x1="499.4" y1="1386.7" x2="526.6" y2="1386.7" stroke="#000" stroke-width="2.1"/>
<path d="M612.7 1302.7V1322.3M612.7 1339.9V1353.5" stroke="#000" stroke-width="1.55" fill="none"/>
<path d="M605.85 1302.7H619.55M605.85 1353.5H619.55" stroke="#000" stroke-width="1.3" fill="none"/>
<rect x="599.1" y="1322.3" width="27.2" height="17.6" fill="#3e58ac" stroke="#111" stroke-width="1.05"/>
<line x1="599.1" y1="1333.9" x2="626.3" y2="1333.9" stroke="#000" stroke-width="2.1"/>
<ellipse cx="612.7" cy="1287.6" rx="4.1" ry="2.75" fill="none" stroke="#444" stroke-width="1.2"/>
<ellipse cx="612.7" cy="1375.4" rx="4.1" ry="2.75" fill="none" stroke="#444" stroke-width="1.2"/>
<ellipse cx="612.7" cy="1387" rx="4.1" ry="2.75" fill="none" stroke="#444" stroke-width="1.2"/>
<path d="M651.2 1278.5V1302.7M651.2 1331.1V1357.5" stroke="#000" stroke-width="1.55" fill="none"/>
<path d="M644.35 1278.5H658.05M644.35 1357.5H658.05" stroke="#000" stroke-width="1.3" fill="none"/>
<rect x="637.6" y="1302.7" width="27.2" height="28.4" fill="#2eb848" stroke="#111" stroke-width="1.05"/>
<line x1="637.6" y1="1317.5" x2="664.8" y2="1317.5" stroke="#000" stroke-width="2.1"/>
<path d="M751.45 1325.6V1332.6M751.45 1365.1V1407.1" stroke="#000" stroke-width="1.55" fill="none"/>
<path d="M744.6 1325.6H758.3M744.6 1407.1H758.3" stroke="#000" stroke-width="1.3" fill="none"/>
<rect x="737.6" y="1332.6" width="27.7" height="32.5" fill="#3e58ac" stroke="#111" stroke-width="1.05"/>
<line x1="737.6" y1="1350" x2="765.3" y2="1350" stroke="#000" stroke-width="2.1"/>
<ellipse cx="751.45" cy="1244" rx="4.1" ry="2.75" fill="none" stroke="#444" stroke-width="1.2"/>
<ellipse cx="751.45" cy="1246.6" rx="4.1" ry="2.75" fill="none" stroke="#444" stroke-width="1.2"/>
<ellipse cx="751.45" cy="1413.7" rx="4.1" ry="2.75" fill="none" stroke="#444" stroke-width="1.2"/>
<ellipse cx="751.45" cy="1417.5" rx="4.1" ry="2.75" fill="none" stroke="#444" stroke-width="1.2"/>
<path d="M790.1 1213.3V1282.6M790.1 1339.7V1391.8" stroke="#000" stroke-width="1.55" fill="none"/>
<path d="M783.25 1213.3H796.95M783.25 1391.8H796.95" stroke="#000" stroke-width="1.3" fill="none"/>
<rect x="776.4" y="1282.6" width="27.4" height="57.1" fill="#2eb848" stroke="#111" stroke-width="1.05"/>
<line x1="776.4" y1="1320.8" x2="803.8" y2="1320.8" stroke="#000" stroke-width="2.1"/>
<ellipse cx="790.1" cy="1444.9" rx="4.1" ry="2.75" fill="none" stroke="#444" stroke-width="1.2"/>
<ellipse cx="790.1" cy="1446.7" rx="4.1" ry="2.75" fill="none" stroke="#444" stroke-width="1.2"/>
<path d="M890.3 1307.7V1328.1M890.3 1386.3V1429.8" stroke="#000" stroke-width="1.55" fill="none"/>
<path d="M883.45 1307.7H897.15M883.45 1429.8H897.15" stroke="#000" stroke-width="1.3" fill="none"/>
<rect x="876.6" y="1328.1" width="27.4" height="58.2" fill="#3e58ac" stroke="#111" stroke-width="1.05"/>
<line x1="876.6" y1="1359.6" x2="904" y2="1359.6" stroke="#000" stroke-width="2.1"/>
<path d="M929 1265.9V1296.1M929 1345.2V1378.7" stroke="#000" stroke-width="1.55" fill="none"/>
<path d="M922.15 1265.9H935.85M922.15 1378.7H935.85" stroke="#000" stroke-width="1.3" fill="none"/>
<rect x="915.4" y="1296.1" width="27.2" height="49.1" fill="#2eb848" stroke="#111" stroke-width="1.05"/>
<line x1="915.4" y1="1320.1" x2="942.6" y2="1320.1" stroke="#000" stroke-width="2.1"/>
<text class="t" transform="translate(215.8 1597) scale(1.44 1)" text-anchor="middle">MH</text>
<text class="t" transform="translate(354.56 1597) scale(1.44 1)" text-anchor="middle">QY</text>
<text class="t" transform="translate(493.3 1597) scale(1.44 1)" text-anchor="middle">XY</text>
<text class="t" transform="translate(632.1 1597) scale(1.44 1)" text-anchor="middle">HT</text>
<text class="t" transform="translate(770.8 1597) scale(1.44 1)" text-anchor="middle">DH</text>
<text class="t" transform="translate(909.6 1597) scale(1.44 1)" text-anchor="middle">JF</text>
<rect x="750.9" y="22.7" width="24.6" height="16.8" fill="#3e58ac" stroke="#111" stroke-width="1.05"/>
<rect x="881.8" y="22.7" width="24.6" height="16.8" fill="#2eb848" stroke="#111" stroke-width="1.05"/>
<text class="lg" transform="translate(779.2 40.3) scale(1.38 1)">NF</text>
<text class="lg" transform="translate(910.5 40.3) scale(1.38 1)">PF</text>
<ellipse cx="87.2" cy="596.5" rx="0.85" ry="1.05" fill="#2a2a2a"/><ellipse cx="87.2" cy="601.9" rx="0.85" ry="0.95" fill="#2a2a2a"/>
<text class="yt" font-size="37.8" fill="#000" stroke="#000" transform="translate(35.3 331) scale(1.055 1) rotate(-90)">C content (g kg</text>
<text class="yt" font-size="22.0" fill="#000" stroke="#000" transform="translate(17.7 97.5) scale(1.17 1) rotate(-90)">-1</text>
<text class="yt" font-size="37.8" fill="#000" stroke="#000" transform="translate(35.3 77) scale(1.055 1) rotate(-90)">)</text>
<text class="yt" font-size="37.8" fill="#000" stroke="#000" transform="translate(34.9 731) scale(1.055 1) rotate(-90)">N content (g kg</text>
<text class="yt" font-size="22.0" fill="#000" stroke="#000" transform="translate(17.3 496.6) scale(1.17 1) rotate(-90)">-1</text>
<text class="yt" font-size="37.8" fill="#000" stroke="#000" transform="translate(34.9 475.8) scale(1.055 1) rotate(-90)">)</text>
<text class="yt" font-size="37.8" fill="#000" stroke="#000" transform="translate(36.8 1114) scale(1.055 1) rotate(-90)">Soil </text>
<text class="yt" font-size="37.8" fill="#000" stroke="#000" font-style="italic" transform="translate(36.8 1046) scale(1.055 1) rotate(-90)">δ</text>
<text class="yt" font-size="22.0" fill="#000" stroke="#000" transform="translate(19.9 1025.5) scale(1.17 1) rotate(-90)">13</text>
<text class="yt" font-size="37.8" fill="#000" stroke="#000" transform="translate(36.8 1001.5) scale(1.055 1) rotate(-90)">C content</text>
<text class="yt" font-size="37.8" fill="#000" stroke="#000" transform="translate(37.4 1547.3) scale(1.055 1) rotate(-90)">Soil </text>
<text class="yt" font-size="37.8" fill="#000" stroke="#000" font-style="italic" transform="translate(37.4 1478) scale(1.055 1) rotate(-90)">δ</text>
<text class="yt" font-size="22.0" fill="#000" stroke="#000" transform="translate(20 1457) scale(1.17 1) rotate(-90)">15</text>
<text class="yt" font-size="37.8" fill="#000" stroke="#000" transform="translate(37.4 1434.6) scale(1.055 1) rotate(-90)">N content (‰)</text>
</svg>
</body></html>
